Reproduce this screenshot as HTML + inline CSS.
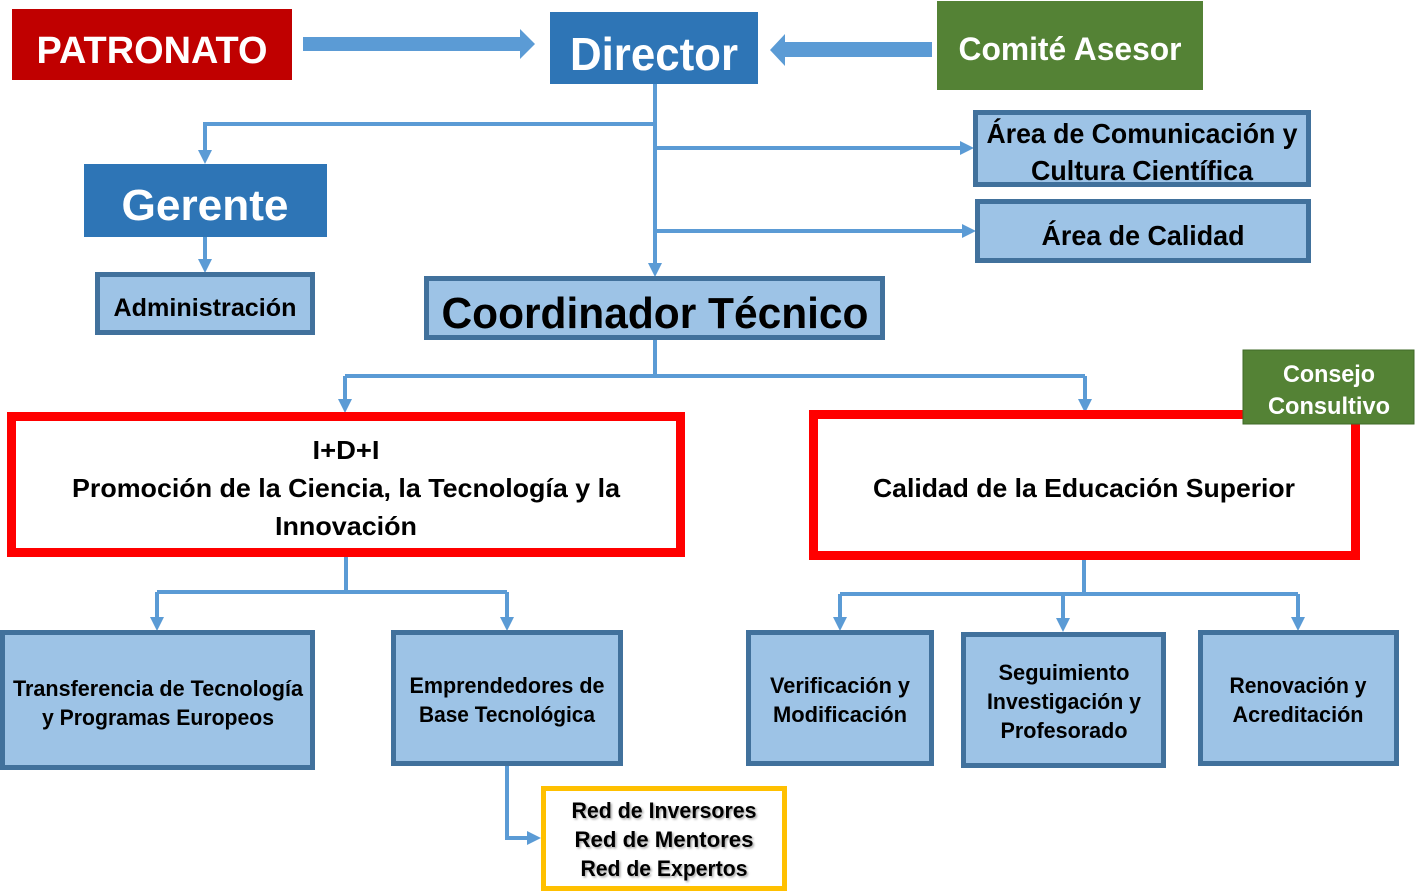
<!DOCTYPE html>
<html><head><meta charset="utf-8"><style>
html,body{margin:0;padding:0;background:#fff;width:1415px;height:893px;overflow:hidden}
svg{display:block}
text{font-family:"Liberation Sans",sans-serif;font-weight:bold;text-anchor:middle}
.w{fill:#fff}.k{fill:#000}
.ln{stroke:#5B9BD5;stroke-width:4;fill:none}
.ah{fill:#5B9BD5}
.lb{fill:#9DC3E6;stroke:#41719C;stroke-width:5}
.sh{fill:#000;filter:url(#s)}
</style></head><body>
<svg width="1415" height="893" viewBox="0 0 1415 893" xmlns="http://www.w3.org/2000/svg">
<defs><filter id="s" x="-5%" y="-20%" width="110%" height="140%"><feDropShadow dx="1.5" dy="1.5" stdDeviation="1" flood-color="#000" flood-opacity="0.35"/></filter></defs>

<!-- top boxes -->
<rect x="12" y="9" width="280" height="71" fill="#C00000"/>
<text class="w" x="152" y="63" font-size="38" textLength="231" lengthAdjust="spacingAndGlyphs">PATRONATO</text>
<rect x="550" y="12" width="208" height="72" fill="#2E75B6"/>
<text class="w" x="654" y="70" font-size="46" textLength="168" lengthAdjust="spacingAndGlyphs">Director</text>
<rect x="937" y="1" width="266" height="89" fill="#548235"/>
<text class="w" x="1070" y="60" font-size="32" textLength="223" lengthAdjust="spacingAndGlyphs">Comité Asesor</text>

<!-- thick arrows -->
<polygon class="ah" points="303,37 520,37 520,29 535,44 520,59 520,51 303,51"/>
<polygon class="ah" points="932,42 785,42 785,34 770,50 785,66 785,57 932,57"/>

<!-- director connectors -->
<path class="ln" d="M655,84 V264 M655,124 H205 V152 M655,148 H962 M655,231 H964"/>
<polygon class="ah" points="198,150 212,150 205,164"/>
<polygon class="ah" points="648,263 662,263 655,277"/>
<polygon class="ah" points="960,141 960,155 974,148"/>
<polygon class="ah" points="962,224 962,238 976,231"/>

<rect x="84" y="164" width="243" height="73" fill="#2E75B6"/>
<text class="w" x="205" y="220" font-size="44" textLength="167" lengthAdjust="spacingAndGlyphs">Gerente</text>
<path class="ln" d="M205,237 V260"/>
<polygon class="ah" points="198,259 212,259 205,273"/>
<rect class="lb" x="97.5" y="274.5" width="215" height="58"/>
<text class="k" x="205" y="316" font-size="25" textLength="183" lengthAdjust="spacingAndGlyphs">Administración</text>

<rect class="lb" x="426.5" y="278.5" width="456" height="59"/>
<text class="k" x="655" y="328" font-size="44" textLength="427" lengthAdjust="spacingAndGlyphs">Coordinador Técnico</text>

<rect class="lb" x="975.5" y="112.5" width="333" height="72"/>
<text class="k" x="1142" y="143" font-size="28" textLength="311" lengthAdjust="spacingAndGlyphs">Área de Comunicación y</text>
<text class="k" x="1142" y="180" font-size="28" textLength="222" lengthAdjust="spacingAndGlyphs">Cultura Científica</text>
<rect class="lb" x="977.5" y="201.5" width="331" height="59"/>
<text class="k" x="1143" y="245" font-size="28" textLength="203" lengthAdjust="spacingAndGlyphs">Área de Calidad</text>

<!-- coordinador connectors -->
<path class="ln" d="M655,340 V376 M345,376 H1085 M345,376 V400 M1085,376 V400"/>
<polygon class="ah" points="338,399 352,399 345,413"/>
<polygon class="ah" points="1078,399 1092,399 1085,413"/>

<rect x="11.5" y="416.5" width="669" height="136" fill="#fff" stroke="#FF0000" stroke-width="9"/>
<text class="k" x="346" y="459" font-size="26" textLength="67" lengthAdjust="spacingAndGlyphs">I+D+I</text>
<text class="k" x="346" y="497" font-size="26" textLength="548" lengthAdjust="spacingAndGlyphs">Promoción de la Ciencia, la Tecnología y la</text>
<text class="k" x="346" y="535" font-size="26" textLength="142" lengthAdjust="spacingAndGlyphs">Innovación</text>

<rect x="813.5" y="414.5" width="542" height="141" fill="#fff" stroke="#FF0000" stroke-width="9"/>
<text class="k" x="1084" y="497" font-size="26" textLength="422" lengthAdjust="spacingAndGlyphs">Calidad de la Educación Superior</text>

<rect x="1243" y="350" width="171" height="74" fill="#548235" stroke="#3f6a27" stroke-width="1"/>
<text class="w" x="1329" y="382" font-size="24" textLength="92" lengthAdjust="spacingAndGlyphs">Consejo</text>
<text class="w" x="1329" y="414" font-size="24" textLength="122" lengthAdjust="spacingAndGlyphs">Consultivo</text>

<!-- I+D+I connectors -->
<path class="ln" d="M346,557 V592 M157,592 H507 M157,592 V618 M507,592 V618"/>
<polygon class="ah" points="150,617 164,617 157,631"/>
<polygon class="ah" points="500,617 514,617 507,631"/>

<rect class="lb" x="2.5" y="632.5" width="310" height="135"/>
<text class="k" x="158" y="696" font-size="22" textLength="290" lengthAdjust="spacingAndGlyphs">Transferencia de Tecnología</text>
<text class="k" x="158" y="725" font-size="22" textLength="232" lengthAdjust="spacingAndGlyphs">y Programas Europeos</text>

<rect class="lb" x="393.5" y="632.5" width="227" height="131"/>
<text class="k" x="507" y="693" font-size="22" textLength="195" lengthAdjust="spacingAndGlyphs">Emprendedores de</text>
<text class="k" x="507" y="722" font-size="22" textLength="176" lengthAdjust="spacingAndGlyphs">Base Tecnológica</text>

<path class="ln" d="M507,766 V838 H528"/>
<polygon class="ah" points="527,831 527,845 541,838"/>
<rect x="543.5" y="788.5" width="241" height="100" fill="#fff" stroke="#FFC000" stroke-width="5"/>
<text class="sh" x="664" y="818" font-size="22" textLength="185" lengthAdjust="spacingAndGlyphs">Red de Inversores</text>
<text class="sh" x="664" y="847" font-size="22" textLength="179" lengthAdjust="spacingAndGlyphs">Red de Mentores</text>
<text class="sh" x="664" y="876" font-size="22" textLength="167" lengthAdjust="spacingAndGlyphs">Red de Expertos</text>

<!-- calidad connectors -->
<path class="ln" d="M1084,560 V594 M840,594 H1298 M840,594 V618 M1063,594 V618 M1298,594 V618"/>
<polygon class="ah" points="833,617 847,617 840,631"/>
<polygon class="ah" points="1056,618 1070,618 1063,632"/>
<polygon class="ah" points="1291,617 1305,617 1298,631"/>

<rect class="lb" x="748.5" y="632.5" width="183" height="131"/>
<text class="k" x="840" y="693" font-size="22" textLength="140" lengthAdjust="spacingAndGlyphs">Verificación y</text>
<text class="k" x="840" y="722" font-size="22" textLength="134" lengthAdjust="spacingAndGlyphs">Modificación</text>

<rect class="lb" x="963.5" y="634.5" width="200" height="131"/>
<text class="k" x="1064" y="680" font-size="22" textLength="131" lengthAdjust="spacingAndGlyphs">Seguimiento</text>
<text class="k" x="1064" y="709" font-size="22" textLength="154" lengthAdjust="spacingAndGlyphs">Investigación y</text>
<text class="k" x="1064" y="738" font-size="22" textLength="127" lengthAdjust="spacingAndGlyphs">Profesorado</text>

<rect class="lb" x="1200.5" y="632.5" width="196" height="131"/>
<text class="k" x="1298" y="693" font-size="22" textLength="137" lengthAdjust="spacingAndGlyphs">Renovación y</text>
<text class="k" x="1298" y="722" font-size="22" textLength="131" lengthAdjust="spacingAndGlyphs">Acreditación</text>
</svg>
</body></html>
